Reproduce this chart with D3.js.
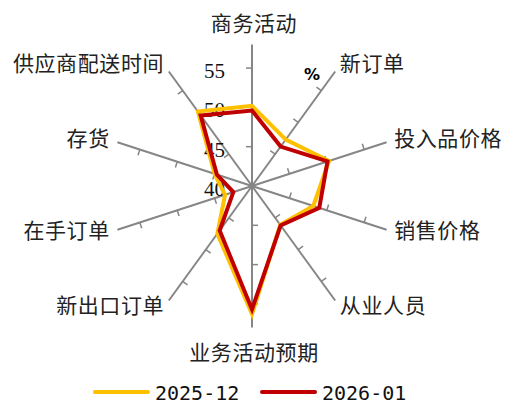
<!DOCTYPE html>
<html>
<head>
<meta charset="utf-8">
<script src="https://cdn.jsdelivr.net/npm/d3@7"></script>
<style>
  body { margin: 0; background: #fff; }
  svg { display: block; }
</style>
</head>
<body>
<script>
var w = 509;
var h = 405;

// DATA
var categories = ["商务活动", "新订单", "投入品价格", "销售价格", "从业人员",
  "业务活动预期", "新出口订单", "在手订单", "存货", "供应商配送时间"];
var seriesNames = ["2025-12", "2026-01"];
var dec2025 = [50.2, 47.3, 50.3, 48.2, 46.1, 56.3, 47.5, 43.6, 45.0, 51.7];
var jan2026 = [49.6, 46.2, 50.1, 49.0, 46.2, 55.7, 47.0, 42.5, 44.7, 51.1];
var tickValues = [40, 45, 50, 55];
var colors = ["#FFC000", "#C00000"];

var cx = 252, cy = 186;
var R = 141.5;

var svg = d3.select("body").append("svg")
  .attr("width", w)
  .attr("height", h);

var r = d3.scaleLinear().domain([40, 58]).range([0, R]);
var angle = d3.scalePoint().domain(categories).range([0, 2 * Math.PI * 9 / 10]);

function px(a, rr) { return cx + rr * Math.sin(a); }
function py(a, rr) { return cy - rr * Math.cos(a); }

var g = svg.append("g");

// ----- AXES -----
categories.forEach(function(c) {
  var a = angle(c);
  g.append("line")
    .attr("x1", cx).attr("y1", cy)
    .attr("x2", px(a, R)).attr("y2", py(a, R))
    .attr("stroke", "#868686")
    .attr("stroke-width", 2);

  // tick marks on the counter-clockwise side
  tickValues.slice(1).forEach(function(t) {
    var rr = r(t);
    var x0 = px(a, rr), y0 = py(a, rr);
    g.append("line")
      .attr("x1", x0).attr("y1", y0)
      .attr("x2", x0 - 6 * Math.cos(a)).attr("y2", y0 - 6 * Math.sin(a))
      .attr("stroke", "#868686")
      .attr("stroke-width", 1.5);
  });

  // category label
  var s = Math.sin(a);
  var lab = g.append("text")
    .attr("font-family", "'Noto Sans CJK SC', sans-serif")
    .attr("font-size", 21)
    .attr("letter-spacing", 0.6)
    .attr("fill", "#222")
    .attr("dominant-baseline", "central")
    .text(c);
  if (Math.abs(s) < 0.01) {
    lab.attr("x", cx + 2).attr("y", py(a, R + 23)).attr("text-anchor", "middle");
  } else {
    lab.attr("x", px(a, R + 8)).attr("y", py(a, R + 8) - 3)
      .attr("text-anchor", s > 0 ? "start" : "end");
  }
});

// ----- TICK LABELS -----
g.selectAll(".tlab")
  .data(tickValues)
  .enter().append("text")
  .attr("class", "tlab")
  .attr("x", cx - 27)
  .attr("y", function(d) { return cy - r(d) + 3; })
  .attr("text-anchor", "end")
  .attr("dominant-baseline", "central")
  .attr("font-family", "'Liberation Serif', serif")
  .attr("font-size", 21)
  .attr("fill", "#111")
  .text(function(d) { return d; });

g.append("text")
  .attr("x", 312).attr("y", 74)
  .attr("text-anchor", "middle")
  .attr("dominant-baseline", "central")
  .attr("font-family", "'DejaVu Sans', sans-serif")
  .attr("font-weight", "bold")
  .attr("font-size", 16)
  .text("%");

// ----- SERIES -----
var line = d3.lineRadial()
  .angle(function(d, i) { return angle(categories[i]); })
  .radius(function(d) { return r(d); })
  .curve(d3.curveLinearClosed);

[dec2025, jan2026].forEach(function(vals, k) {
  g.append("path")
    .attr("transform", "translate(" + cx + "," + cy + ")")
    .attr("d", line(vals))
    .attr("fill", "none")
    .attr("stroke", colors[k])
    .attr("stroke-width", 4)
    .attr("stroke-linejoin", "miter")
    .attr("stroke-miterlimit", 10);
});

// ----- LEGEND -----
var legX = [95, 262];
seriesNames.forEach(function(n, k) {
  svg.append("line")
    .attr("x1", legX[k]).attr("x2", legX[k] + 53)
    .attr("y1", 392).attr("y2", 392)
    .attr("stroke", colors[k])
    .attr("stroke-width", 4)
    .attr("stroke-linecap", "round");
  svg.append("text")
    .attr("x", legX[k] + 60).attr("y", 393)
    .attr("dominant-baseline", "central")
    .attr("font-family", "'DejaVu Sans Mono', monospace")
    .attr("font-size", 20)
    .attr("fill", "#111")
    .text(n);
});
</script>
</body>
</html>
